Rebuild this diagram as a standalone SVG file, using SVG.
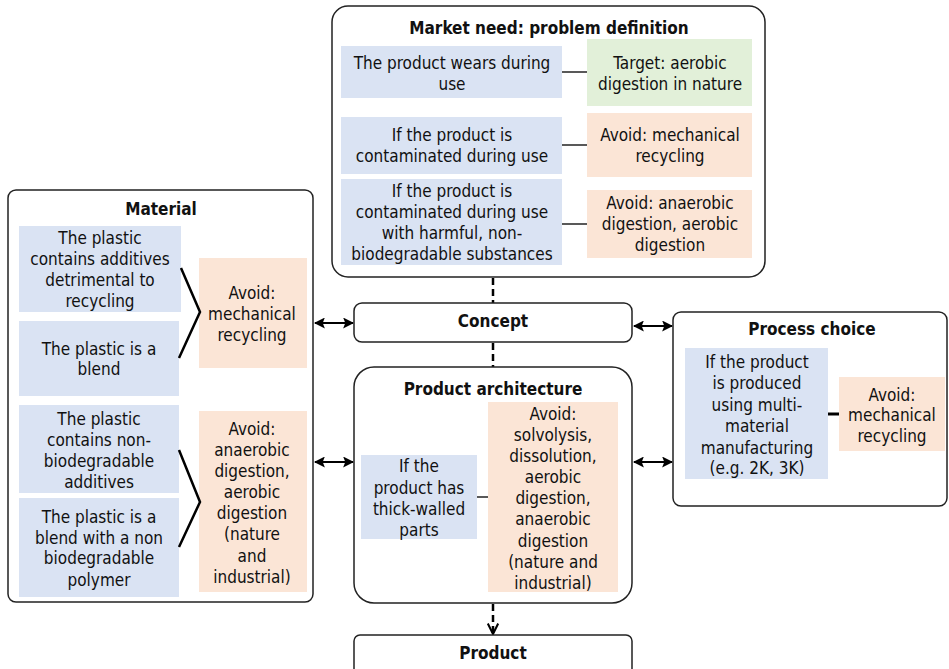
<svg xmlns="http://www.w3.org/2000/svg" width="949" height="669" viewBox="0 0 949 669">
  <style>
    text { font-family: "DejaVu Sans Condensed", "DejaVu Sans", sans-serif; font-size: 17px; fill: #111; text-anchor: middle; }
    .title { font-weight: bold; }
    .frame { fill: #fff; stroke: #222; stroke-width: 1.5; }
    .cond { fill: #dae3f3; }
    .avoid { fill: #fbe5d6; }
    .target { fill: #e2f0d9; }
    .tie { stroke: #222; stroke-width: 1.5; fill: none; }
    .brace { stroke: #000; stroke-width: 2.5; fill: none; }
    .link { stroke: #000; stroke-width: 2; fill: none; marker-start: url(#head); marker-end: url(#head); }
    .dash { stroke: #000; stroke-width: 2.5; stroke-dasharray: 7 4; fill: none; }
  </style>
  <defs>
    <marker id="head" viewBox="0 0 10 10" refX="9" refY="5" markerWidth="5.5" markerHeight="5.5" orient="auto-start-reverse" markerUnits="strokeWidth">
      <path d="M0,0 L10,5 L0,10 L2,5 Z" fill="#000"/>
    </marker>
    <marker id="vee" viewBox="0 0 12 12" refX="11" refY="6" markerWidth="5" markerHeight="5" orient="auto" markerUnits="strokeWidth">
      <path d="M1,1 L11,6 L1,11" fill="none" stroke="#000" stroke-width="2"/>
    </marker>
  </defs>

  <!-- connectors -->
  <g id="connectors">
    <line class="dash" x1="493" y1="278" x2="493" y2="303"/>
    <line class="dash" x1="493" y1="343" x2="493" y2="367"/>
    <line class="dash" x1="493" y1="604" x2="493" y2="634" marker-end="url(#vee)"/>
    <line class="link" x1="315" y1="323" x2="353" y2="323"/>
    <line class="link" x1="315" y1="462" x2="353" y2="462"/>
    <line class="link" x1="634" y1="326" x2="672" y2="326"/>
    <line class="link" x1="634" y1="462" x2="672" y2="462"/>
  </g>

  <!-- Market need -->
  <g id="market">
    <rect class="frame" x="332" y="6" width="433" height="271" rx="16"/>
    <text class="title" x="549" y="34">Market need: problem definition</text>
    <rect class="cond" x="341" y="46" width="221" height="52"/>
    <text x="452" y="69">The product wears during</text>
    <text x="452" y="90">use</text>
    <rect class="target" x="587" y="39" width="165" height="67"/>
    <text x="670" y="69">Target: aerobic</text>
    <text x="670" y="90">digestion in nature</text>
    <line class="tie" x1="562" y1="72" x2="587" y2="72"/>

    <rect class="cond" x="341" y="117" width="221" height="57"/>
    <text x="452" y="141">If the product is</text>
    <text x="452" y="162">contaminated during use</text>
    <rect class="avoid" x="587" y="113" width="165" height="64"/>
    <text x="670" y="141">Avoid: mechanical</text>
    <text x="670" y="162">recycling</text>
    <line class="tie" x1="562" y1="145" x2="587" y2="145"/>

    <rect class="cond" x="341" y="179" width="221" height="86"/>
    <text x="452" y="197">If the product is</text>
    <text x="452" y="218">contaminated during use</text>
    <text x="452" y="239">with harmful, non-</text>
    <text x="452" y="260">biodegradable substances</text>
    <rect class="avoid" x="587" y="190" width="165" height="68"/>
    <text x="670" y="209">Avoid: anaerobic</text>
    <text x="670" y="230">digestion, aerobic</text>
    <text x="670" y="251">digestion</text>
    <line class="tie" x1="562" y1="224" x2="587" y2="224"/>
  </g>

  <!-- Material -->
  <g id="material">
    <rect class="frame" x="8" y="190" width="305" height="412" rx="8"/>
    <text class="title" x="161" y="215">Material</text>
    <rect class="cond" x="19" y="226" width="162" height="86"/>
    <text x="100" y="244">The plastic</text>
    <text x="100" y="265">contains additives</text>
    <text x="100" y="286">detrimental to</text>
    <text x="100" y="307">recycling</text>
    <rect class="cond" x="19" y="321" width="160" height="75"/>
    <text x="99" y="355">The plastic is a</text>
    <text x="99" y="375">blend</text>
    <rect class="avoid" x="199" y="258" width="108" height="110"/>
    <text x="252" y="299">Avoid:</text>
    <text x="252" y="320">mechanical</text>
    <text x="252" y="341">recycling</text>
    <polyline class="brace" points="181,268 200,312 179,358"/>

    <rect class="cond" x="19" y="405" width="160" height="88"/>
    <text x="99" y="425">The plastic</text>
    <text x="99" y="446">contains non-</text>
    <text x="99" y="467">biodegradable</text>
    <text x="99" y="488">additives</text>
    <rect class="cond" x="19" y="498" width="160" height="99"/>
    <text x="99" y="523">The plastic is a</text>
    <text x="99" y="544">blend with a non</text>
    <text x="99" y="564">biodegradable</text>
    <text x="99" y="586">polymer</text>
    <rect class="avoid" x="199" y="411" width="108" height="181"/>
    <text x="252" y="435">Avoid:</text>
    <text x="252" y="456">anaerobic</text>
    <text x="252" y="477">digestion,</text>
    <text x="252" y="498">aerobic</text>
    <text x="252" y="519">digestion</text>
    <text x="252" y="540">(nature</text>
    <text x="252" y="562">and</text>
    <text x="252" y="583">industrial)</text>
    <polyline class="brace" points="179,450 200,502 179,547"/>
  </g>

  <!-- Concept -->
  <g id="concept">
    <rect class="frame" x="354" y="303" width="278" height="39" rx="8"/>
    <text class="title" x="493" y="327">Concept</text>
  </g>

  <!-- Product architecture -->
  <g id="architecture">
    <rect class="frame" x="354" y="367" width="278" height="236" rx="20"/>
    <text class="title" x="493" y="395">Product architecture</text>
    <rect class="cond" x="361" y="455" width="116" height="84"/>
    <text x="419" y="472">If the</text>
    <text x="419" y="494">product has</text>
    <text x="419" y="515">thick-walled</text>
    <text x="419" y="536">parts</text>
    <rect class="avoid" x="488" y="402" width="130" height="190"/>
    <text x="553" y="420">Avoid:</text>
    <text x="553" y="441">solvolysis,</text>
    <text x="553" y="462">dissolution,</text>
    <text x="553" y="483">aerobic</text>
    <text x="553" y="504">digestion,</text>
    <text x="553" y="525">anaerobic</text>
    <text x="553" y="547">digestion</text>
    <text x="553" y="568">(nature and</text>
    <text x="553" y="589">industrial)</text>
    <line class="tie" x1="477" y1="497" x2="488" y2="497"/>
  </g>

  <!-- Process choice -->
  <g id="process">
    <rect class="frame" x="673" y="312" width="274" height="194" rx="8"/>
    <text class="title" x="812" y="335">Process choice</text>
    <rect class="cond" x="685" y="348" width="143" height="131"/>
    <text x="757" y="368">If the product</text>
    <text x="757" y="389">is produced</text>
    <text x="757" y="411">using multi-</text>
    <text x="757" y="432">material</text>
    <text x="757" y="454">manufacturing</text>
    <text x="757" y="474">(e.g. 2K, 3K)</text>
    <rect class="avoid" x="839" y="377" width="106" height="74"/>
    <text x="892" y="401">Avoid:</text>
    <text x="892" y="421">mechanical</text>
    <text x="892" y="442">recycling</text>
    <line x1="828" y1="414" x2="839" y2="414" stroke="#000" stroke-width="3"/>
  </g>

  <!-- Product -->
  <g id="product">
    <rect class="frame" x="354" y="635" width="278" height="44" rx="6"/>
    <text class="title" x="493" y="659">Product</text>
  </g>
</svg>
